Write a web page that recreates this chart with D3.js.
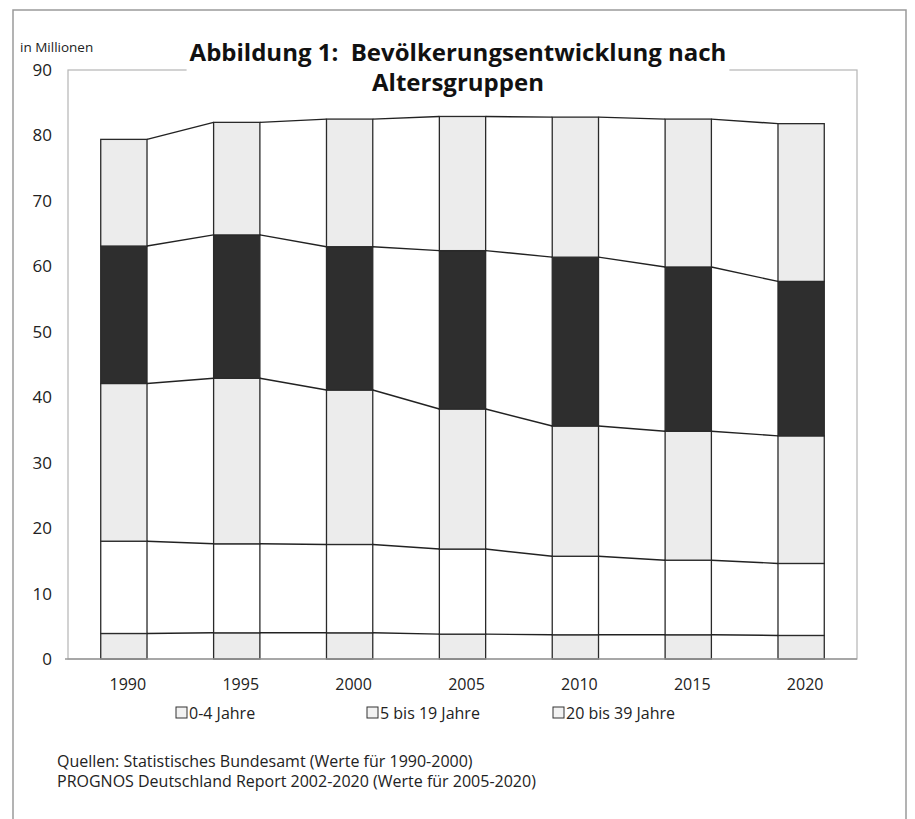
<!DOCTYPE html>
<html><head><meta charset="utf-8">
<script src="https://cdn.jsdelivr.net/npm/d3@7"></script>
<style>body{margin:0;background:#fff}svg{display:block}</style>
</head><body>
<svg id="c" width="915" height="819"></svg>
<script>
// ---- data ----
const years = ["1990","1995","2000","2005","2010","2015","2020"];
const seriesNames = ["0-4 Jahre","5 bis 19 Jahre","20 bis 39 Jahre","40 bis 59 Jahre","60 Jahre und älter"];
const age0to4   = [3.9, 4.0, 4.0, 3.8, 3.7, 3.7, 3.6];
const age5to19  = [14.1,13.6,13.5,13.0,12.0,11.4,11.0];
const age20to39 = [24.1,25.3,23.6,21.4,19.9,19.7,19.5];
const age40to59 = [21.0,21.9,21.9,24.2,25.8,25.1,23.6];
const age60plus = [16.3,17.2,19.5,20.5,21.4,22.6,24.1];
const yTicks = [0,10,20,30,40,50,60,70,80,90];
const legendNames = ["0-4 Jahre","5 bis 19 Jahre","20 bis 39 Jahre"];
const titleLines = ["Abbildung 1:\u00a0 Bevölkerungsentwicklung nach","Altersgruppen"];
const unitLabel = "in Millionen";
const sourceLines = ["Quellen: Statistisches Bundesamt (Werte für 1990-2000)",
                     "PROGNOS Deutschland Report 2002-2020 (Werte für 2005-2020)"];

// ---- build table ----
const seriesValues = [age0to4, age5to19, age20to39, age40to59, age60plus];
const rows = years.map((yr, i) => {
  const r = {year: yr};
  seriesNames.forEach((s, k) => r[s] = seriesValues[k][i]);
  return r;
});
const stacked = d3.stack().keys(seriesNames)(rows);

const fills = ["#ececec","#ffffff","#ececec","#2e2e2e","#ececec"];
const FONT = "'Open Sans', 'DejaVu Sans', sans-serif";

const svg = d3.select("#c").style("font-family", FONT);
const L = 68, R = 857, T = 70, B = 659;

const x = d3.scaleBand().domain(years).range([L, R]).paddingInner(0.59).paddingOuter(0.29);
const y = d3.scaleLinear().domain([0, 90]).range([B, T]);

// outer page frame
svg.append("path")
  .attr("d", `M13,819 V10 H906 V819`)
  .attr("fill","none").attr("stroke","#9a9a9a").attr("stroke-width",1.5);

// plot frame
svg.append("rect").attr("x", L).attr("y", T).attr("width", R - L).attr("height", B - T)
  .attr("fill","none").attr("stroke","#b5b5b5").attr("stroke-width",1.2);

// bars
const layer = svg.append("g").selectAll("g").data(stacked).join("g")
  .attr("fill", (d, i) => fills[i]);
layer.selectAll("rect").data(d => d).join("rect")
  .attr("x", d => x(d.data.year))
  .attr("y", d => y(d[1]))
  .attr("width", x.bandwidth())
  .attr("height", d => y(d[0]) - y(d[1]))
  .attr("stroke", "#2a2a2a").attr("stroke-width", 1.3);

// series lines connecting bars
const conn = svg.append("g").attr("stroke","#222").attr("stroke-width",1.4).attr("fill","none");
stacked.forEach(s => {
  for (let i = 0; i < s.length - 1; i++) {
    conn.append("line")
      .attr("x1", x(s[i].data.year) + x.bandwidth()).attr("y1", y(s[i][1]))
      .attr("x2", x(s[i+1].data.year)).attr("y2", y(s[i+1][1]));
  }
});

// baseline
svg.append("line").attr("x1", L - 3).attr("x2", R).attr("y1", B).attr("y2", B)
  .attr("stroke","#999").attr("stroke-width",1.5);

// y axis labels
const yAxis = d3.axisLeft(y).tickValues(yTicks).tickSize(0).tickPadding(16);
const yg = svg.append("g").attr("transform", `translate(${L},0)`).call(yAxis);
yg.select(".domain").remove();
yg.selectAll("text").attr("font-size", 17).attr("fill","#222").attr("font-family", FONT);

// x axis labels
const xAxis = d3.axisBottom(x).tickSize(0).tickPadding(20);
const xg = svg.append("g").attr("transform", `translate(4,${B})`).call(xAxis);
xg.select(".domain").remove();
xg.selectAll("text").attr("font-size", 16).attr("fill","#222").attr("font-family", FONT);

// unit label
svg.append("text").attr("x", 20).attr("y", 52).attr("font-size", 13.5).attr("fill","#222")
  .text(unitLabel);

// title with white backing
const tg = svg.append("g");
const tbg = tg.append("rect").attr("fill","#fff");
const tt = tg.append("text").attr("text-anchor","middle").attr("font-weight","bold")
  .attr("font-size", 24).attr("fill","#111");
titleLines.forEach((t, i) => tt.append("tspan").attr("x", 458).attr("y", 61 + i * 30).text(t));
const bb = tt.node().getBBox();
tbg.attr("x", bb.x - 3).attr("y", bb.y).attr("width", bb.width + 6).attr("height", bb.height);

// legend
const legX = [176, 367, 553];
const lg = svg.append("g").selectAll("g").data(legendNames).join("g")
  .attr("transform", (d, i) => `translate(${legX[i]},713)`);
lg.append("rect").attr("x", 0).attr("y", -6).attr("width", 11).attr("height", 11)
  .attr("fill","#f2f2f2").attr("stroke","#333").attr("stroke-width",1);
lg.append("text").attr("x", 13).attr("y", 5.5).attr("font-size", 16).attr("fill","#222").text(d => d);

// sources
svg.append("g").selectAll("text").data(sourceLines).join("text")
  .attr("x", 57).attr("y", (d, i) => 767 + i * 20)
  .attr("font-size", 16).attr("fill","#222").text(d => d);
</script>
</body></html>
